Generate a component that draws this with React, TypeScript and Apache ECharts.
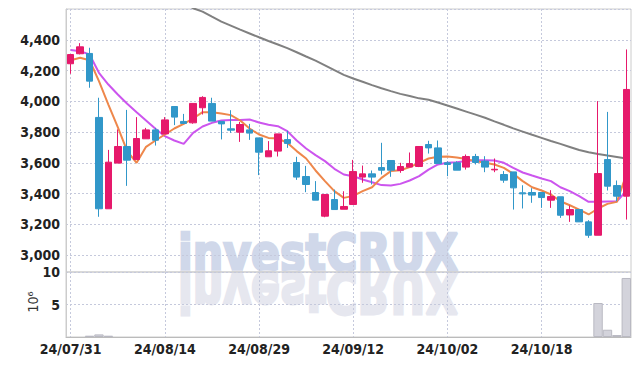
import React, { useEffect, useRef } from 'react';
import * as echarts from 'echarts';

const dates = ['24/07/31','24/08/01','24/08/02','24/08/05','24/08/06','24/08/07','24/08/08','24/08/09','24/08/12','24/08/13',
  '24/08/14','24/08/16','24/08/19','24/08/20','24/08/21','24/08/22','24/08/23','24/08/26','24/08/27','24/08/28',
  '24/08/29','24/08/30','24/09/02','24/09/03','24/09/04','24/09/05','24/09/06','24/09/09','24/09/10','24/09/11',
  '24/09/12','24/09/13','24/09/19','24/09/20','24/09/23','24/09/24','24/09/25','24/09/26','24/09/27','24/09/30',
  '24/10/02','24/10/04','24/10/07','24/10/08','24/10/10','24/10/11','24/10/14','24/10/15','24/10/16','24/10/17',
  '24/10/18','24/10/21','24/10/22','24/10/23','24/10/24','24/10/25','24/10/28','24/10/29','24/10/30','24/10/31'];

const openP = [4244,4309,4311,3895,3301,3598,3706,3621,3756,3814,
  3788,3966,3869,3860,3958,3986,3869,3821,3799,3814,
  3762,3639,3676,3751,3602,3511,3407,3253,3361,3298,
  3329,3507,3528,3569,3615,3550,3572,3576,3719,3697,
  3600,3600,3572,3641,3611,3554,3524,3541,3405,3407,
  3407,3357,3379,3261,3296,3216,3129,3621,3452,3383];
const closeP = [4304,4354,4131,3301,3604,3706,3617,3758,3814,3747,
  3879,3897,3856,3986,4025,3871,3853,3812,3849,3793,
  3669,3678,3788,3726,3507,3459,3357,3394,3296,3316,
  3543,3528,3507,3552,3552,3576,3595,3706,3697,3595,
  3589,3552,3641,3602,3572,3558,3487,3437,3398,3390,
  3374,3381,3259,3296,3216,3129,3530,3448,3383,4077];
const lowP = [4179,4305,4088,3249,3301,3598,3450,3621,3756,3712,
  3788,3845,3856,3854,3914,3871,3752,3795,3736,3749,
  3520,3639,3641,3697,3489,3409,3357,3246,3296,3298,
  3329,3470,3459,3524,3509,3535,3572,3572,3660,3595,
  3513,3552,3556,3589,3539,3539,3470,3296,3303,3340,
  3307,3307,3242,3216,3216,3112,3129,3420,3350,3231];
const highP = [4304,4378,4348,4023,3684,3817,3944,3897,3827,3827,
  3897,3966,3918,3986,4033,4023,3869,3942,3866,3853,
  3762,3741,3788,3808,3639,3580,3481,3394,3426,3415,
  3619,3582,3550,3730,3615,3600,3667,3708,3743,3745,
  3610,3610,3654,3658,3643,3628,3546,3541,3454,3435,
  3407,3422,3379,3322,3296,3227,4001,3931,3485,4337];

const ma5 = [4267,4283,4267,4131,3979,3832,3676,3600,3704,3745,
  3784,3823,3853,3888,3929,3929,3921,3910,3875,3823,
  3784,3762,3758,3730,3676,3628,3550,3481,3416,3372,
  3385,3416,3441,3502,3546,3552,3572,3600,3628,3639,
  3641,3634,3624,3611,3600,3589,3567,3528,3481,3441,
  3420,3394,3350,3324,3296,3264,3303,3333,3346,3524];
const ma20 = [4333,4326,4304,4185,4109,4044,3984,3929,3875,3821,
  3773,3745,3723,3795,3836,3860,3875,3879,3879,3882,
  3862,3847,3838,3806,3745,3693,3650,3611,3561,3524,
  3513,3491,3474,3455,3452,3463,3485,3513,3556,3589,
  3600,3604,3611,3617,3617,3615,3600,3567,3537,3517,
  3498,3481,3441,3416,3383,3346,3346,3348,3350,3416];
const maLong = [null,null,null,null,null,null,null,null,null,null,
  null,null,4640,4605,4583,4550,4518,4492,4466,4441,
  4416,4392,4369,4346,4319,4291,4264,4234,4202,4172,
  4148,4127,4105,4085,4066,4048,4034,4019,4010,3992,
  3973,3953,3933,3913,3893,3869,3847,3824,3803,3782,
  3762,3742,3723,3703,3683,3668,3657,3647,3638,3628];
// volume in units of 10^6
const volume = [null,null,0.2,0.4,0.2,null,null,null,null,null,
  null,null,null,null,null,null,null,null,null,null,
  null,null,null,null,null,null,null,null,null,null,
  null,null,null,null,null,null,null,null,null,null,
  null,null,null,null,null,null,null,null,null,null,
  null,null,null,null,null,null,5.23,1.12,0.3,9.08];

const UP = '#e6196b';
const DOWN = '#3197c9';
const FONT = '"Liberation Sans Narrow", "DejaVu Sans Condensed", sans-serif';
const WM_FONT = '"DejaVu Sans", sans-serif';
const GRIDLINE = { color: '#c5c9dc', type: [2, 2] as any, width: 1 };

export default function App() {
  const ref = useRef<HTMLDivElement>(null);
  useEffect(() => {
    if (!ref.current) return;
    const chart = echarts.init(ref.current, undefined, { renderer: 'svg' });
    const ohlc = dates.map((_, i) => [openP[i], closeP[i], lowP[i], highP[i]]);
    const option: any = {
      animation: false,
      textStyle: { fontFamily: FONT },
      graphic: [
        {
          type: 'text', z: -10, x: 178, y: 253, scaleX: 0.84, silent: true,
          style: { text: 'investCRUX', fontSize: 51, fontWeight: 'bold', fontFamily: WM_FONT, fill: '#d0d8ea', stroke: '#d0d8ea', lineWidth: 2.5, align: 'left', verticalAlign: 'middle' },
        },
        {
          type: 'text', z: -10, x: 178, y: 291.5, scaleX: 0.84, scaleY: -1.1, silent: true,
          style: { text: 'investCRUX', fontSize: 51, fontWeight: 'bold', fontFamily: WM_FONT, fill: '#e6e7ef', stroke: '#e6e7ef', lineWidth: 2.5, align: 'left', verticalAlign: 'middle' },
        },
        {
          type: 'text', x: 33, y: 302, rotation: Math.PI / 2,
          style: { text: '10⁶', fontSize: 14, fontFamily: FONT, fill: '#333', align: 'center', verticalAlign: 'middle' },
        },
      ],
      grid: [
        { left: 66, right: 8, top: 9, height: 263, show: true, borderColor: '#ccc', borderWidth: 1 },
        { left: 66, right: 8, top: 272, height: 65, show: true, borderColor: '#ccc', borderWidth: 1 },
      ],
      xAxis: [
        {
          type: 'category', gridIndex: 0, data: dates, boundaryGap: true,
          axisLine: { show: false }, axisTick: { show: false }, axisLabel: { show: false },
          splitLine: { show: true, interval: 9, alignWithLabel: true, lineStyle: GRIDLINE },
        },
        {
          type: 'category', gridIndex: 1, data: dates, boundaryGap: true,
          axisLine: { show: true, lineStyle: { color: '#bbb' } }, axisTick: { show: false },
          axisLabel: { interval: 9, color: '#222', fontSize: 14, fontWeight: 'bold', margin: 5, fontFamily: FONT },
          splitLine: { show: true, interval: 9, alignWithLabel: true, lineStyle: GRIDLINE },
        },
      ],
      yAxis: [
        {
          type: 'value', gridIndex: 0, min: 2890, max: 4600, splitNumber: 8, minInterval: 200, maxInterval: 200,
          axisLine: { show: true, lineStyle: { color: '#ccc' } }, axisTick: { show: false },
          axisLabel: {
            color: '#222', fontSize: 14, fontWeight: 'bold', margin: 6, fontFamily: FONT,
            formatter: (v: number) => (v % 200 === 0 && v < 4600 ? v.toLocaleString('en-US') : ''),
          },
          splitLine: { show: true, lineStyle: GRIDLINE },
        },
        {
          type: 'value', gridIndex: 1, min: 0, max: 10, interval: 5,
          axisLine: { show: true, lineStyle: { color: '#ccc' } }, axisTick: { show: false },
          axisLabel: { color: '#222', fontSize: 14, fontWeight: 'bold', margin: 6, fontFamily: FONT, showMinLabel: false },
          splitLine: { show: true, lineStyle: GRIDLINE },
        },
      ],
      series: [
        { type: 'line', xAxisIndex: 0, yAxisIndex: 0, data: maLong, symbol: 'none', z: 1, clip: true,
          lineStyle: { color: '#808080', width: 2 } },
        { type: 'line', xAxisIndex: 0, yAxisIndex: 0, data: ma20, symbol: 'none', z: 1, clip: true,
          lineStyle: { color: '#cc55ee', width: 2 } },
        { type: 'line', xAxisIndex: 0, yAxisIndex: 0, data: ma5, symbol: 'none', z: 1, clip: true,
          lineStyle: { color: '#ee874b', width: 2 } },
        { type: 'candlestick', xAxisIndex: 0, yAxisIndex: 0, data: ohlc, barWidth: '74%', z: 2,
          itemStyle: { color: UP, color0: DOWN, borderColor: UP, borderColor0: DOWN, borderWidth: 1 } },
        { type: 'bar', xAxisIndex: 1, yAxisIndex: 1, data: volume, barCategoryGap: '0%',
          itemStyle: { color: '#d3d3db', borderColor: '#b9b9c2', borderWidth: 1 } },
      ],
    };
    chart.setOption(option);
    return () => chart.dispose();
  }, []);
  return <div ref={ref} style={{ width: 639, height: 366, position: 'absolute', left: 0, top: 0 }} />;
}
